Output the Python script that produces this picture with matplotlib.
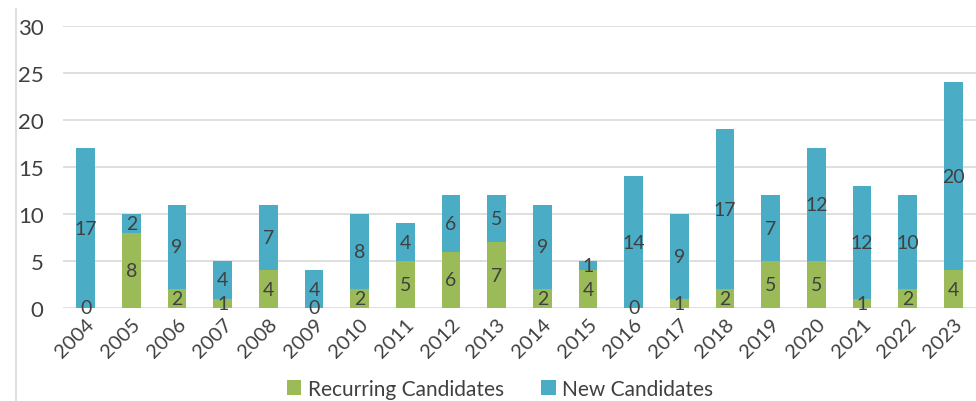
import matplotlib
matplotlib.use("Agg")
import matplotlib.pyplot as plt
from matplotlib.lines import Line2D
import numpy as np

years = ["2004", "2005", "2006", "2007", "2008", "2009", "2010", "2011", "2012", "2013",
         "2014", "2015", "2016", "2017", "2018", "2019", "2020", "2021", "2022", "2023"]
recurring = [0, 8, 2, 1, 4, 0, 2, 5, 6, 7, 2, 4, 0, 1, 2, 5, 5, 1, 2, 4]
new = [17, 2, 9, 4, 7, 4, 8, 4, 6, 5, 9, 1, 14, 9, 17, 7, 12, 12, 10, 20]
yticks = [0, 5, 10, 15, 20, 25, 30]

GREEN = "#9BBB59"
BLUE = "#4BACC6"
TEXT = "#404040"
GRID = "#D9D9D9"

plt.rcParams['font.family'] = ['Lato', 'DejaVu Sans']

fig = plt.figure(figsize=(9.76, 4.02), dpi=100)
ax = fig.add_axes([63/976, 93/402, (976-63)/976, 282/402])

x = np.arange(len(years))
w = 0.41
ax.bar(x, recurring, w, color=GREEN, label="Recurring Candidates", zorder=3)
ax.bar(x, new, w, bottom=recurring, color=BLUE, label="New Candidates", zorder=3)

for i in range(len(years)):
    ax.text(x[i], recurring[i] / 2, str(recurring[i]), ha='center', va='center',
            fontsize=14, color=TEXT, zorder=4)
    ax.text(x[i], recurring[i] + new[i] / 2, str(new[i]), ha='center', va='center',
            fontsize=14, color=TEXT, zorder=4)

ax.set_xlim(-0.5, len(years) - 0.5)
ax.set_ylim(0, 30)
ax.set_yticks(yticks)
ax.set_yticklabels([str(v) for v in yticks], fontsize=16, color=TEXT)
ax.set_xticks(x)
ax.set_xticklabels(years, rotation=45, ha='right', rotation_mode='anchor',
                   fontsize=14.5, color=TEXT)
ax.tick_params(axis='both', length=0)
ax.tick_params(axis='y', pad=14)
ax.tick_params(axis='x', pad=5)
ax.yaxis.grid(True, color=GRID, linewidth=1.2, zorder=0)
for s in ax.spines.values():
    s.set_visible(False)

# left frame line
fig.add_artist(Line2D([15.5/976, 15.5/976], [0, 1 - 10/402], color="#E0E0E0", linewidth=1.5,
                      transform=fig.transFigure))

handles, labels = ax.get_legend_handles_labels()
leg = fig.legend(handles, labels, loc='center', bbox_to_anchor=(500/976, 1 - 390/402),
                 ncol=2, frameon=False, fontsize=15, handlelength=0.7, handleheight=0.7,
                 handletextpad=0.3, columnspacing=1.8, borderpad=0)
for t in leg.get_texts():
    t.set_color(TEXT)

fig.savefig("out.png", dpi=100)
